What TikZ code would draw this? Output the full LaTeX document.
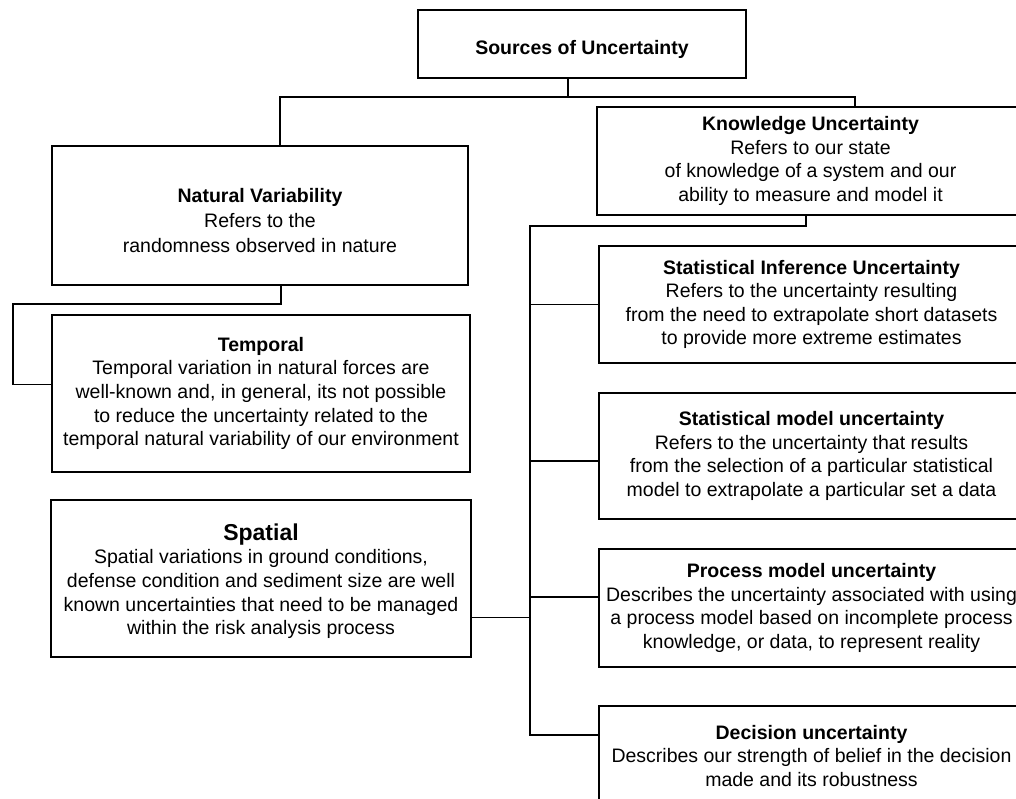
\documentclass[tikz,border=0pt]{standalone}
\usepackage{fontspec}
\setmainfont{Liberation Sans}
\begin{document}
\begin{tikzpicture}[x=1pt,y=-1pt,
  box/.style={draw, line width=1.4pt, inner sep=0pt, align=center,
    font=\fontsize{19.5}{23.6}\selectfont},
  conn/.style={line width=1.4pt}]
\useasboundingbox (0,0) rectangle (1016,798);
\fill[white] (0,0) rectangle (1016,798);
\clip (0,0) rectangle (1016,798);
% boxes
\node[box, minimum width=328pt, minimum height=68pt] (src) at (582,44)
  {\rule{0pt}{26pt}\textbf{Sources of Uncertainty}};
\node[box, minimum width=416pt, minimum height=139pt] (nat) at (260,215.5)
  {\rule{0pt}{24pt}\textbf{Natural Variability}\\[1.2pt]Refers to the\\[1.2pt]randomness observed in nature};
\node[box, minimum width=427pt, minimum height=108pt] (know) at (810.5,161)
  {\textbf{Knowledge Uncertainty}\\Refers to our state\\of knowledge of a system and our\\ability to measure and model it};
\node[box, minimum width=418pt, minimum height=157pt] (temp) at (261,393.5)
  {\textbf{Temporal}\\Temporal variation in natural forces are\\well-known and, in general, its not possible\\to reduce the uncertainty related to the\\temporal natural variability of our environment};
\node[box, minimum width=420pt, minimum height=157pt] (spat) at (261,578.5)
  {\rule{0pt}{22pt}{\fontsize{23}{26}\selectfont\textbf{Spatial}}\\Spatial variations in ground conditions,\\defense condition and sediment size are well\\known uncertainties that need to be managed\\within the risk analysis process};
\node[box, minimum width=425pt, minimum height=117pt] (sinf) at (811.5,304.5)
  {\textbf{Statistical Inference Uncertainty}\\Refers to the uncertainty resulting\\from the need to extrapolate short datasets\\to provide more extreme estimates};
\node[box, minimum width=425pt, minimum height=126pt] (smod) at (811.5,456)
  {\textbf{Statistical model uncertainty}\\Refers to the uncertainty that results\\from the selection of a particular statistical\\model to extrapolate a particular set a data};
\node[box, minimum width=425pt, minimum height=118pt] (proc) at (811.5,608)
  {\textbf{Process model uncertainty}\\Describes the uncertainty associated with using\\a process model based on incomplete process\\knowledge, or data, to represent reality};
\node[box, minimum width=425pt, minimum height=100pt] (dec) at (811.5,756)
  {\textbf{Decision uncertainty}\\Describes our strength of belief in the decision\\made and its robustness};
% junctions
\coordinate (t1) at (568,97);
\coordinate (t2) at (280,97);
\coordinate (t3) at (855,97);
\coordinate (n1) at (281,304);
\coordinate (n2) at (13,304);
\coordinate (k1) at (806,226);
\coordinate (k2) at (530,226);
\coordinate (k3) at (530,735);
% connectors
\draw[conn] (src.south -| t1) -- (t1);
\draw[conn] (nat.north -| t2) -- (t2) -- (t3) -- (know.north -| t3);
\draw[conn] (nat.south -| n1) -- (n1) -- (n2) |- ([yshift=9pt]temp.west);
\draw[conn] (know.south -| k1) -- (k1) -- (k2) -- (k3) -- (dec.west |- k3);
\draw[conn] (sinf.west) -- (sinf.west -| k2);
\draw[conn] ([yshift=-5pt]smod.west) -- ([yshift=-5pt]smod.west -| k2);
\draw[conn] ([yshift=11pt]proc.west) -- ([yshift=11pt]proc.west -| k2);
\draw[conn] ([yshift=-39pt]spat.east) -- ([yshift=-39pt]spat.east -| k2);
\end{tikzpicture}
\end{document}
